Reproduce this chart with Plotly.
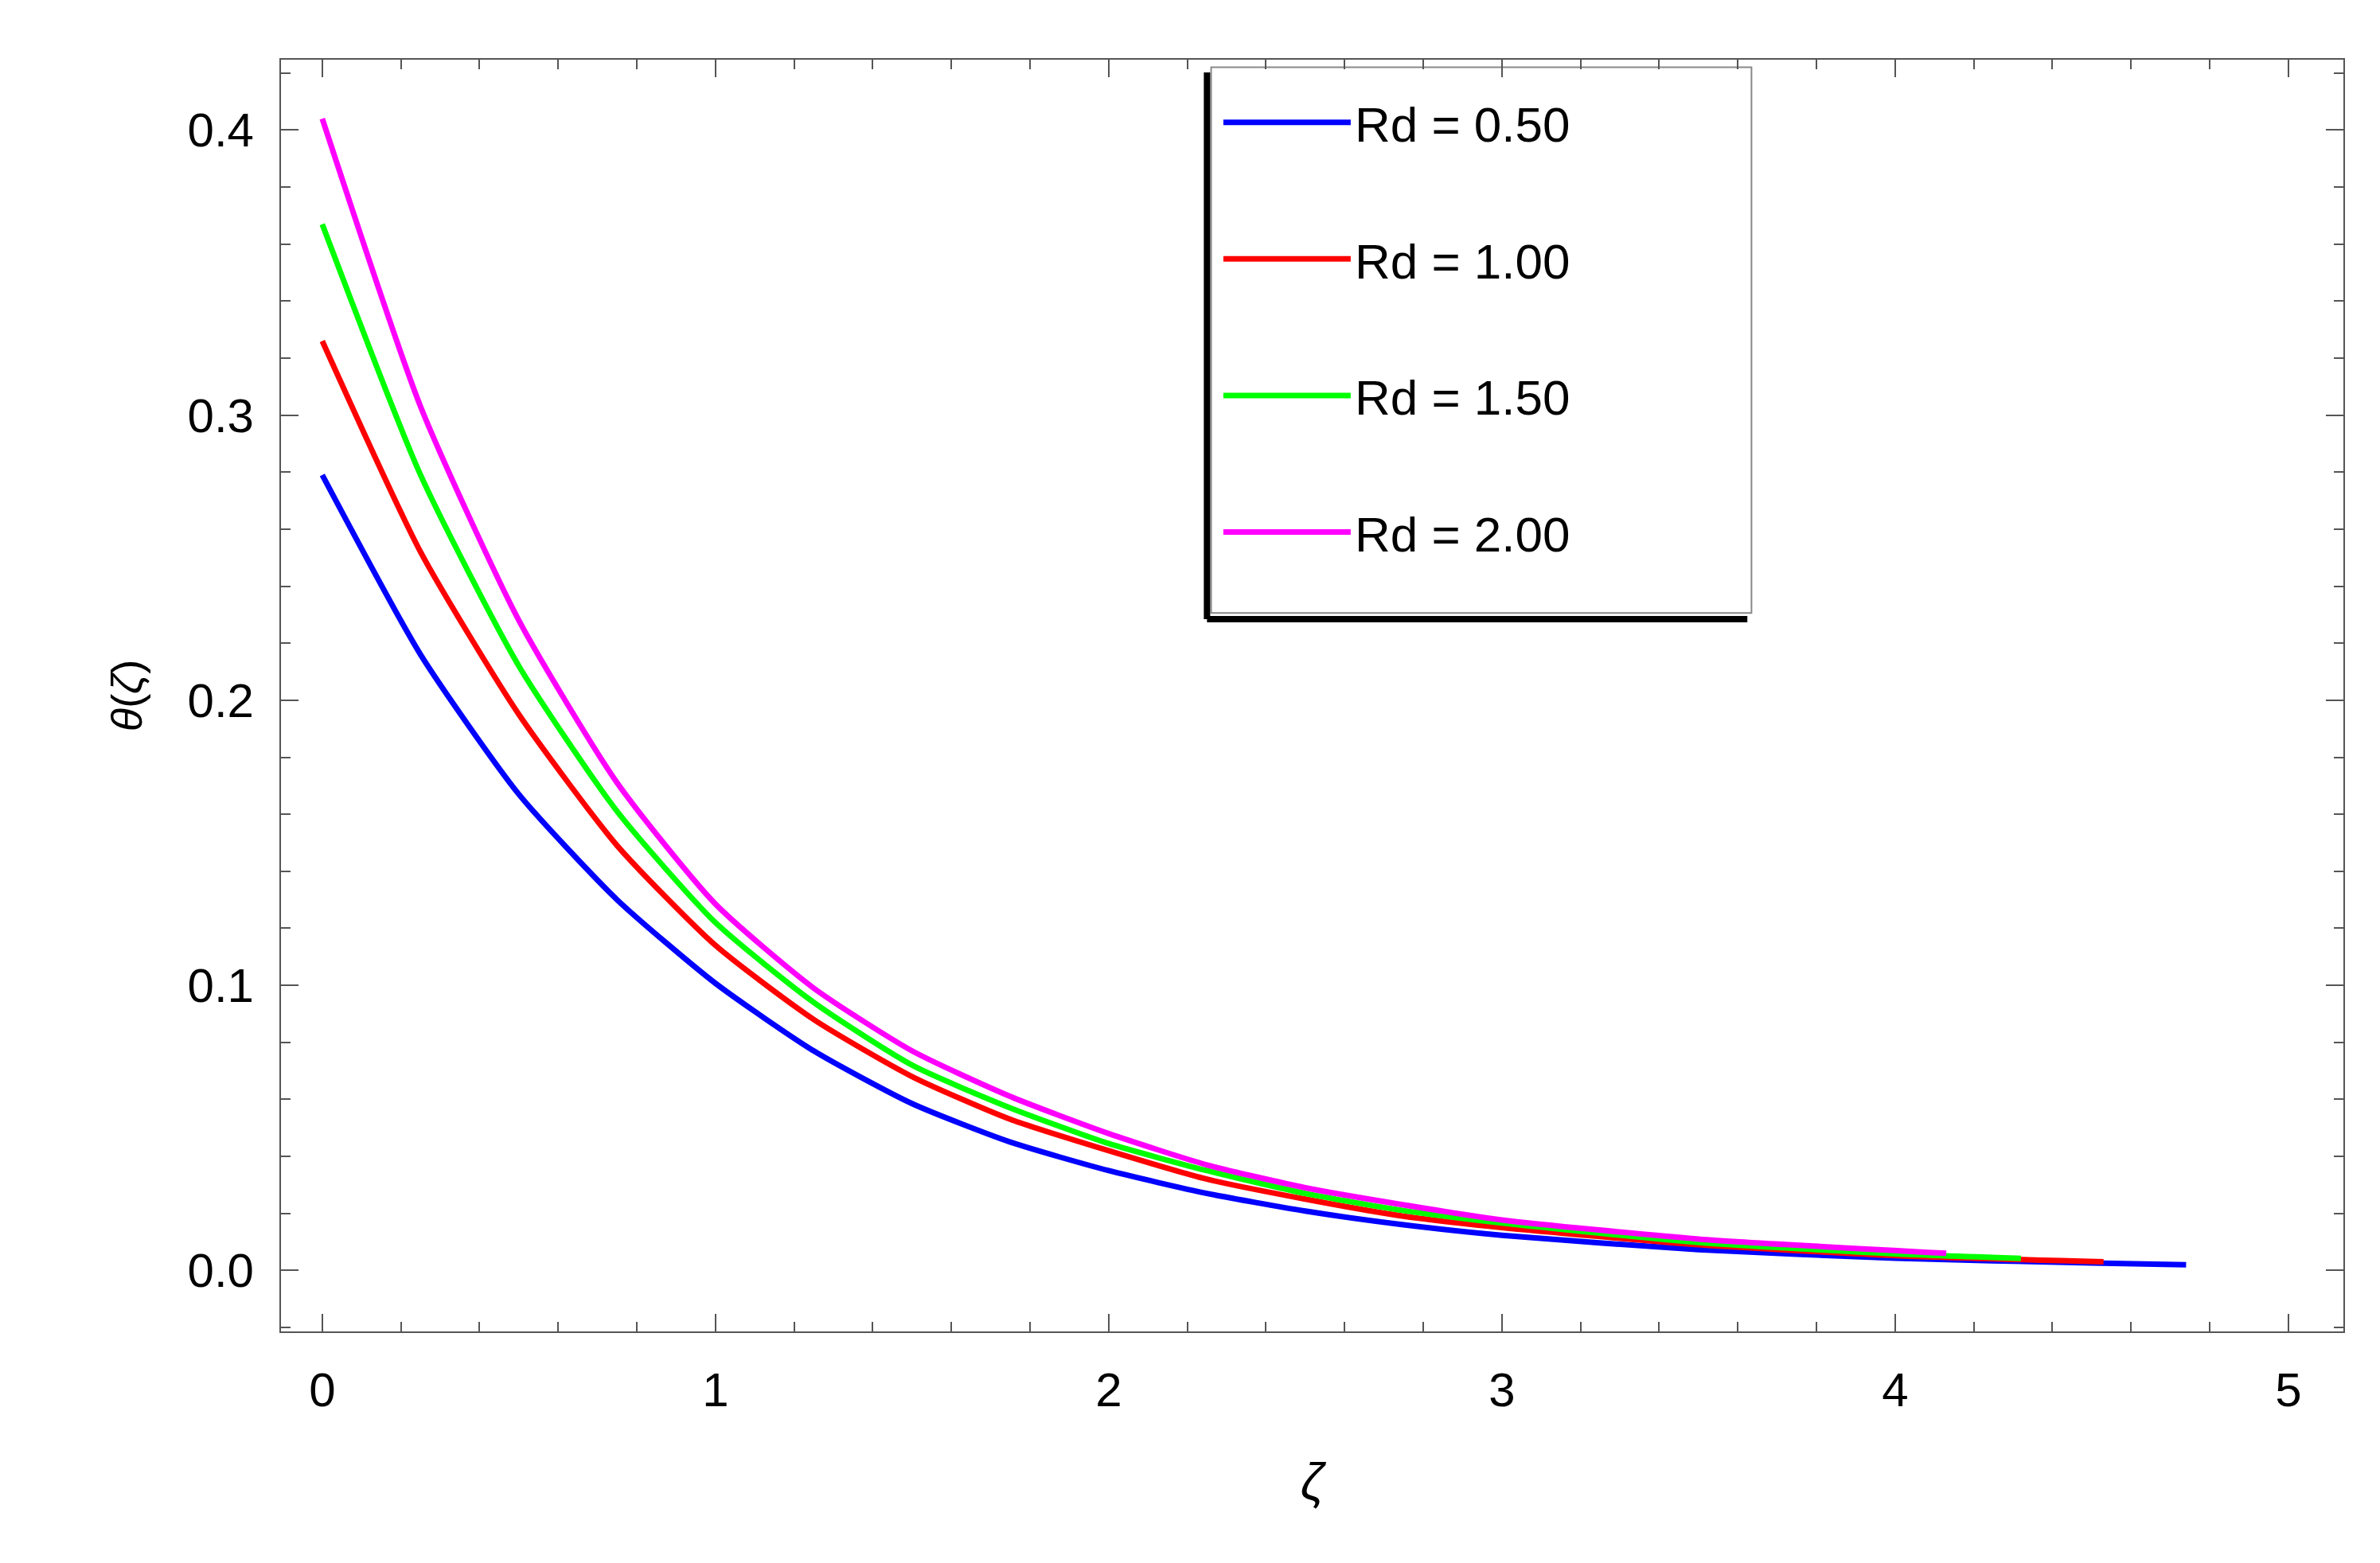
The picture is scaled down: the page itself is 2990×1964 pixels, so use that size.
import plotly.graph_objects as go

x_blue = [0, 0.25, 0.5, 0.75, 1, 1.25, 1.5, 1.75, 2, 2.25, 2.5, 2.75, 3, 3.5, 4, 4.5, 4.74]
y_blue = [0.279, 0.216, 0.167, 0.13, 0.1007, 0.077, 0.0585, 0.045, 0.035, 0.027, 0.0208, 0.016, 0.0123, 0.0073, 0.0043, 0.0026, 0.002]
x_red = [0, 0.25, 0.5, 0.75, 1, 1.25, 1.5, 1.75, 2, 2.25, 2.5, 2.75, 3, 3.5, 4, 4.53]
y_red = [0.326, 0.252, 0.195, 0.149, 0.114, 0.088, 0.068, 0.053, 0.042, 0.032, 0.025, 0.019, 0.015, 0.009, 0.0052, 0.003]
x_green = [0, 0.25, 0.5, 0.75, 1, 1.25, 1.5, 1.75, 2, 2.25, 2.5, 2.75, 3, 3.5, 4, 4.32]
y_green = [0.367, 0.279, 0.212, 0.161, 0.122, 0.094, 0.072, 0.057, 0.0445, 0.035, 0.027, 0.021, 0.0166, 0.0098, 0.0058, 0.0042]
x_mag = [0, 0.25, 0.5, 0.75, 1, 1.25, 1.5, 1.75, 2, 2.25, 2.5, 2.75, 3, 3.5, 4.13]
y_mag = [0.404, 0.303, 0.228, 0.171, 0.1285, 0.099, 0.077, 0.061, 0.048, 0.037, 0.029, 0.023, 0.0177, 0.011, 0.006]
labels = ["Rd = 0.50", "Rd = 1.00", "Rd = 1.50", "Rd = 2.00"]
colors = ["#0000ff", "#ff0000", "#00ff00", "#ff00ff"]

fig = go.Figure()
for i, (xs, ys) in enumerate([(x_blue, y_blue), (x_red, y_red), (x_green, y_green), (x_mag, y_mag)]):
    fig.add_trace(go.Scatter(x=xs, y=ys, mode="lines", name=labels[i], legendgroup=str(i),
                             line=dict(color=colors[i], width=7, shape="spline", smoothing=0.6)))

F = "Liberation Sans, Arial, sans-serif"
axis_common = dict(showline=True, linecolor="#555", linewidth=2, mirror="ticks", ticks="inside",
                   ticklen=22, tickwidth=2, tickcolor="#555", showgrid=False, zeroline=False,
                   tickfont=dict(family=F, size=60, color="black"))
fig.update_xaxes(range=[-0.105, 5.14], tickvals=[0, 1, 2, 3, 4, 5],
                 minor=dict(ticks="inside", dtick=0.2, ticklen=12, tickcolor="#555"),
                 title=dict(text="<i>ζ</i>", font=dict(family=F, size=64, color="black"), standoff=60),
                 ticklabelstandoff=20, **axis_common)
fig.update_yaxes(range=[-0.0214, 0.4247], tickvals=[0, 0.1, 0.2, 0.3, 0.4], tickformat=".1f",
                 minor=dict(ticks="inside", dtick=0.02, ticklen=12, tickcolor="#555"),
                 title=dict(text="<i>θ</i>(<i>ζ</i>)", font=dict(family=F, size=54, color="black"), standoff=40),
                 ticklabelstandoff=20, **axis_common)

fig.add_shape(type="rect", xref="paper", yref="paper", x0=0.451, x1=0.713, y0=0.565, y1=0.994,
              line=dict(color="#888", width=2), fillcolor="white", layer="below")
fig.add_shape(type="line", xref="paper", yref="paper", x0=0.449, x1=0.449, y0=0.56, y1=0.99,
              line=dict(color="black", width=8))
fig.add_shape(type="line", xref="paper", yref="paper", x0=0.449, x1=0.711, y0=0.56, y1=0.56,
              line=dict(color="black", width=8))

fig.update_layout(
    width=2990, height=1964, paper_bgcolor="white", plot_bgcolor="white",
    margin=dict(l=345, r=54, t=67, b=299),
    legend=dict(x=0.455, y=0.98, xanchor="left", yanchor="top", bgcolor="rgba(0,0,0,0)",
                font=dict(family=F, size=62, color="black"), tracegroupgap=88,
                traceorder="grouped", itemwidth=160),
    showlegend=True,
)
fig.write_html("out.html")
